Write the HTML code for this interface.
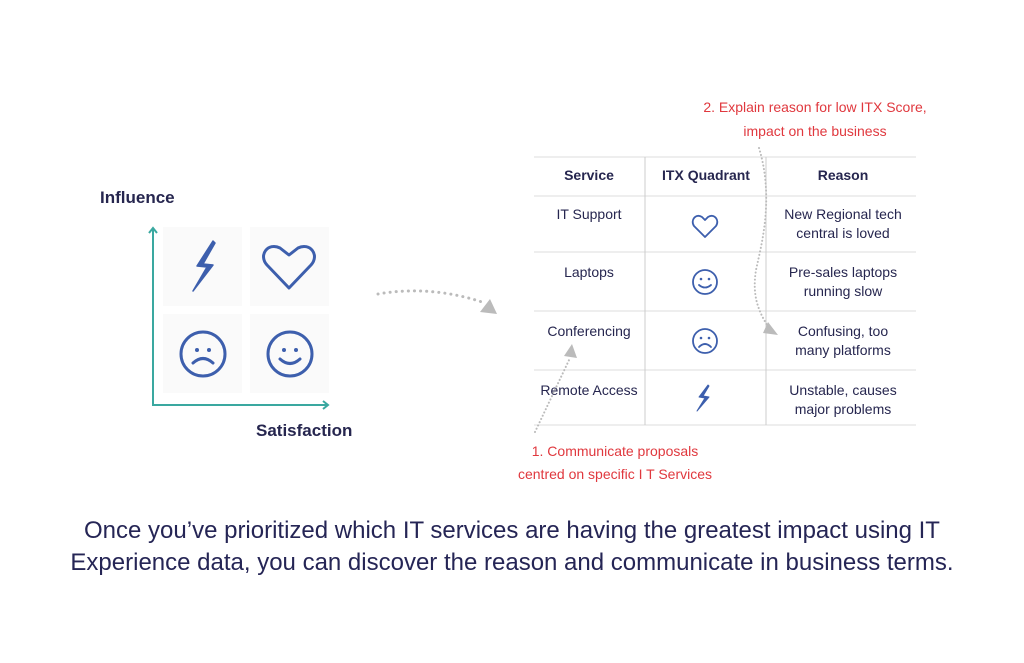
<!DOCTYPE html>
<html><head><meta charset="utf-8"><style>
body{margin:0;background:#fff;}
svg text{font-family:"Liberation Sans",sans-serif;}
</style></head><body>
<svg width="1024" height="658" viewBox="0 0 1024 658" xmlns="http://www.w3.org/2000/svg">
<rect width="1024" height="658" fill="#fff"/>
<text x="100" y="203" font-size="17" font-weight="bold" fill="#26264f">Influence</text>
<text x="256" y="436" font-size="17" font-weight="bold" fill="#26264f">Satisfaction</text>
<g fill="#fafafa"><rect x="163" y="227" width="79" height="79"/><rect x="250" y="227" width="79" height="79"/><rect x="163" y="314" width="79" height="79"/><rect x="250" y="314" width="79" height="79"/></g>
<g stroke="#3aa8a0" stroke-width="2" fill="none">
<path d="M153 229 V405 H328"/><path d="M149 233 L153 228 L157 233"/><path d="M323 401 L328 405 L323 409"/></g>
<path d="M213 241 L215 243 L203 264 L213 265 L193 291 L207 267 L197 266 Z" fill="#3d5fad" stroke="#3d5fad" stroke-width="1.5" stroke-linejoin="round"/>
<g stroke="#3d5fad" stroke-width="3" fill="none" stroke-linecap="round" stroke-linejoin="round">
<path d="M289 288 L267 265 C258 255 268 242 280 248 L289 255 L298 248 C310 242 320 255 311 265 Z"/>
<circle cx="203" cy="354" r="22"/><circle cx="290" cy="354" r="22"/>
<path d="M193 363 Q203 354 213 363"/><path d="M280 359 Q290 368 300 359"/>
</g>
<g fill="#3d5fad"><circle cx="197" cy="350" r="2"/><circle cx="209" cy="350" r="2"/><circle cx="284" cy="350" r="2"/><circle cx="296" cy="350" r="2"/></g>
<path d="M378 294 Q430 285 482 302" stroke="#bbb" stroke-width="3" stroke-dasharray="0.1 6" stroke-linecap="round" fill="none"/>
<polygon points="480,312 497,314 490,299" fill="#bbb"/>
<g stroke="#ddd" stroke-width="1"><path d="M534 157H916M534 196H916M534 252H916M534 311H916M534 370H916M534 425H916"/></g>
<g stroke="#ccc" stroke-width="1"><path d="M645 157V425M766 157V425"/></g>
<g font-size="14" fill="#26264f" text-anchor="middle">
<text x="589" y="180" font-weight="bold">Service</text>
<text x="706" y="180" font-weight="bold">ITX Quadrant</text>
<text x="843" y="180" font-weight="bold">Reason</text>
<text x="589" y="219">IT Support</text>
<text x="589" y="277">Laptops</text>
<text x="589" y="336">Conferencing</text>
<text x="589" y="395">Remote Access</text>
<text x="843" y="219">New Regional tech</text><text x="843" y="238">central is loved</text>
<text x="843" y="277">Pre-sales laptops</text><text x="843" y="296">running slow</text>
<text x="843" y="336">Confusing, too</text><text x="843" y="355">many platforms</text>
<text x="843" y="395">Unstable, causes</text><text x="843" y="414">major problems</text>
</g>
<g stroke="#3d5fad" stroke-width="1.8" fill="none" stroke-linecap="round" stroke-linejoin="round">
<path d="M705 237 L694 226 C690 220 696 213 702 217 L705 220 L708 217 C714 213 720 220 716 226 Z"/>
<circle cx="705" cy="282" r="12"/><path d="M699 285 Q705 290 711 285"/>
<circle cx="705" cy="341" r="12"/><path d="M699 347 Q705 341 711 347"/>
</g>
<path d="M708 385 L709 386 L703 396 L709 397 L697 411 L705 398 L699 397 Z" fill="#3d5fad" stroke="#3d5fad" stroke-width="1" stroke-linejoin="round"/>
<g fill="#3d5fad"><circle cx="701" cy="279" r="1.3"/><circle cx="709" cy="279" r="1.3"/><circle cx="701" cy="338" r="1.3"/><circle cx="709" cy="338" r="1.3"/></g>
<path d="M759 148 C775 200 760 250 756 270 C752 295 758 310 767 325" stroke="#bbb" stroke-width="2" stroke-dasharray="0.1 3.5" stroke-linecap="round" fill="none"/>
<polygon points="763,333 778,335 768,322" fill="#bbb"/>
<path d="M535 432 L570 358" stroke="#bbb" stroke-width="2" stroke-dasharray="0.1 3.5" stroke-linecap="round" fill="none"/>
<polygon points="572,344 564,356 577,358" fill="#bbb"/>
<g font-size="14" fill="#e0383e" text-anchor="middle">
<text x="815" y="112">2. Explain reason  for low ITX Score,</text>
<text x="815" y="136">impact on the business</text>
<text x="615" y="456">1. Communicate proposals</text>
<text x="615" y="479">centred on specific I T Services</text>
</g>
<g font-size="24" fill="#252555" text-anchor="middle">
<text x="512" y="538">Once you’ve prioritized which IT services are having the greatest impact using IT</text>
<text x="512" y="570">Experience data, you can discover the reason and communicate in business terms.</text>
</g>
</svg>
</body></html>
